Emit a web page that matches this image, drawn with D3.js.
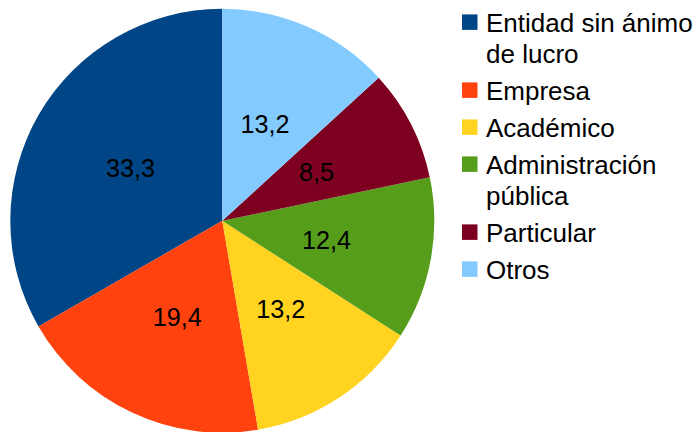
<!DOCTYPE html>
<html>
<head>
<meta charset="utf-8">
<script src="https://cdn.jsdelivr.net/npm/d3@7"></script>
<style>
  html, body { margin: 0; padding: 0; background: #ffffff; }
  svg { display: block; }
  text { font-family: "Liberation Sans", Arial, sans-serif; }
</style>
</head>
<body>
<svg id="chart" width="696" height="432"></svg>
<script>
const categories = ["Entidad sin ánimo de lucro", "Empresa", "Académico", "Administración pública", "Particular", "Otros"];
const values = [33.3, 19.4, 13.2, 12.4, 8.5, 13.2];
const colors = ["#004586", "#ff420e", "#ffd320", "#579d1c", "#7e0021", "#83caff"];

const W = 696, H = 432;
const cx = 222.3, cy = 220.8, radius = 212;
const fontSize = 25.2;
const legFont = 26;

const svg = d3.select("#chart");
const locale = d3.formatLocale({decimal: ",", thousands: ".", grouping: [3], currency: ["", " €"]});
const fmt = locale.format(".1f");

const data = categories.map((c, i) => ({name: c, value: values[i], color: colors[i]}));

const pie = d3.pie().sort(null).value(d => d.value)
  .startAngle(0).endAngle(-2 * Math.PI);
const arcs = pie(data);

const arc = d3.arc().innerRadius(0).outerRadius(radius);
const labelArc = d3.arc().innerRadius(radius / 2).outerRadius(radius / 2);

const g = svg.append("g").attr("transform", `translate(${cx},${cy})`);

g.selectAll("path.slice").data(arcs).join("path")
  .attr("class", "slice")
  .attr("d", arc)
  .attr("fill", d => d.data.color);

g.selectAll("text.val").data(arcs).join("text")
  .attr("class", "val")
  .attr("transform", d => {
    const [x, y] = labelArc.centroid(d);
    return `translate(${x},${y + fontSize * 0.36})`;
  })
  .attr("text-anchor", "middle")
  .attr("font-size", fontSize)
  .attr("fill", "#000000")
  .text(d => fmt(d.data.value));

// Legend
const legX = 462, textX = 486, sq = 15.5;
const maxW = W - textX - 1;
const lineH = 31, entryGap = 37;
let baseline = 31.5;
const leg = svg.append("g");

data.forEach((d, i) => {
  const t = leg.append("text")
    .attr("x", textX)
    .attr("font-size", legFont)
    .attr("fill", "#000000");
  // greedy wrap
  const words = d.name.split(" ");
  const lines = [];
  let cur = "";
  const probe = leg.append("text").attr("font-size", legFont).attr("visibility", "hidden");
  words.forEach(w => {
    const trial = cur ? cur + " " + w : w;
    probe.text(trial);
    if (probe.node().getComputedTextLength() > maxW && cur) {
      lines.push(cur);
      cur = w;
    } else {
      cur = trial;
    }
  });
  if (cur) lines.push(cur);
  probe.remove();

  const first = baseline;
  lines.forEach((ln, k) => {
    t.append("tspan").attr("x", textX).attr("y", baseline + k * lineH).text(ln);
  });
  leg.append("rect")
    .attr("x", legX)
    .attr("y", first - legFont * 0.36 - sq / 2)
    .attr("width", sq)
    .attr("height", sq)
    .attr("fill", d.color);
  baseline = baseline + (lines.length - 1) * lineH + entryGap;
});
</script>
</body>
</html>
